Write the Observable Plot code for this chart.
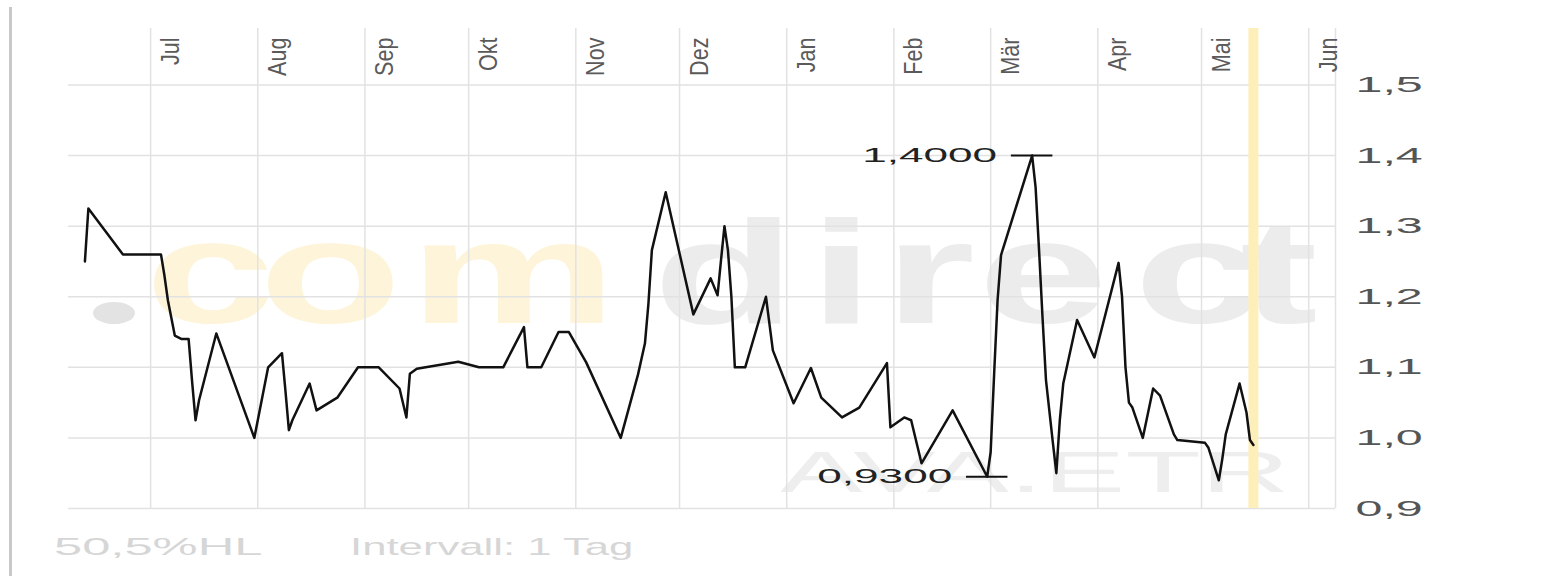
<!DOCTYPE html>
<html><head><meta charset="utf-8">
<script src="https://cdn.jsdelivr.net/npm/d3@7"></script>
<script src="https://cdn.jsdelivr.net/npm/@observablehq/plot@0.6"></script>
<style>
body{margin:0;background:#fff;font-family:"Liberation Sans",Arial,sans-serif;}
#wrap{position:relative;width:1563px;height:576px;overflow:hidden;background:#fff;}
#border{position:absolute;left:9px;top:7px;width:3px;bottom:0;background:#c8c8c8;}
#caption{position:absolute;left:0;top:525px;width:1563px;height:51px;color:#d6d6d6;font-size:24px;}
#caption span{position:absolute;top:10px;line-height:24px;transform-origin:0 50%;white-space:nowrap;}
</style></head><body>
<div id="wrap"><div id="chart"></div><div id="caption"><span id="c1">50,5%HL</span><span id="c2">Intervall: 1 Tag</span></div><div id="border"></div></div>
<script>
// ---- data ----
const dates = ["2022-06-12","2022-06-13","2022-06-23","2022-07-04","2022-07-05","2022-07-06","2022-07-08","2022-07-10","2022-07-12","2022-07-13","2022-07-14","2022-07-15","2022-07-20","2022-07-31","2022-08-04","2022-08-08","2022-08-09","2022-08-10","2022-08-11","2022-08-16","2022-08-18","2022-08-24","2022-08-30","2022-09-05","2022-09-11","2022-09-13","2022-09-14","2022-09-16","2022-09-28","2022-10-04","2022-10-11","2022-10-17","2022-10-18","2022-10-22","2022-10-27","2022-10-30","2022-11-04","2022-11-14","2022-11-19","2022-11-21","2022-11-22","2022-11-23","2022-11-27","2022-12-05","2022-12-10","2022-12-12","2022-12-13","2022-12-14","2022-12-15","2022-12-16","2022-12-17","2022-12-20","2022-12-26","2022-12-28","2023-01-03","2023-01-08","2023-01-11","2023-01-17","2023-01-22","2023-01-30","2023-01-31","2023-02-04","2023-02-06","2023-02-09","2023-02-18","2023-02-28","2023-03-01","2023-03-02","2023-03-03","2023-03-04","2023-03-13","2023-03-14","2023-03-15","2023-03-16","2023-03-17","2023-03-19","2023-03-20","2023-03-21","2023-03-22","2023-03-26","2023-03-31","2023-04-07","2023-04-08","2023-04-09","2023-04-10","2023-04-11","2023-04-14","2023-04-17","2023-04-19","2023-04-23","2023-04-24","2023-05-02","2023-05-03","2023-05-06","2023-05-07","2023-05-08","2023-05-12","2023-05-14","2023-05-15","2023-05-16"];
const values = [1.25,1.325,1.26,1.26,1.23,1.195,1.145,1.14,1.14,1.08,1.025,1.053,1.148,1.0,1.1,1.12,1.067,1.011,1.025,1.077,1.039,1.057,1.1,1.1,1.07,1.029,1.091,1.098,1.108,1.1,1.1,1.157,1.1,1.1,1.15,1.15,1.107,1.0,1.09,1.134,1.19,1.266,1.348,1.175,1.226,1.202,1.252,1.3,1.266,1.2,1.1,1.1,1.2,1.124,1.049,1.099,1.057,1.029,1.043,1.106,1.015,1.029,1.025,0.964,1.039,0.945,0.98,1.09,1.195,1.259,1.40,1.355,1.266,1.171,1.082,0.993,0.95,1.025,1.077,1.167,1.114,1.248,1.2,1.1,1.05,1.043,1.0,1.07,1.06,1.005,0.997,0.993,0.986,0.94,0.97,1.005,1.077,1.036,0.997,0.99];
const monthDates = ["2022-07-01","2022-08-01","2022-09-01","2022-10-01","2022-11-01","2022-12-01","2023-01-01","2023-02-01","2023-03-01","2023-04-01","2023-05-01","2023-06-01"];
const monthLabels = ["Jul","Aug","Sep","Okt","Nov","Dez","Jan","Feb","Mär","Apr","Mai","Jun"];
const yTicks = [0.9,1.0,1.1,1.2,1.3,1.4,1.5];
const yTickLabels = ["0,9","1,0","1,1","1,2","1,3","1,4","1,5"];
const extremeDates = ["2023-03-13","2023-02-28"];
const extremeValues = [1.40,0.945];
const extremeLabels = ["1,4000","0,9300"];
const markerDate = "2023-05-16";
const xDomain = [new Date("2022-06-07T06:00:00Z"), new Date("2023-06-08T18:00:00Z")];

// ---- tables ----
const data = dates.map((d,i)=>({date:new Date(d), value:values[i]}));
const months = monthDates.map((d,i)=>({date:new Date(d), label:monthLabels[i]}));
const extremes = extremeDates.map((d,i)=>({date:new Date(d), value:extremeValues[i], label:extremeLabels[i]}));
const grid = "#e2e2e2";
const FONT = "'Liberation Sans', Arial, sans-serif";

const chart = Plot.plot({
  width:1563, height:525,
  marginLeft:68, marginRight:228, marginTop:28, marginBottom:17,
  x:{type:"utc", domain:xDomain, axis:null},
  y:{domain:[0.9,1.58], axis:null},
  style:{fontFamily:FONT, background:"transparent"},
  marks:[
    Plot.ruleY(yTicks, {stroke:grid, strokeWidth:1.5}),
    Plot.ruleX(months, {x:"date", stroke:grid, strokeWidth:1.5}),
    Plot.ruleX([xDomain[1]], {stroke:grid, strokeWidth:1.5}),
    Plot.ruleX([new Date(markerDate)], {stroke:"#fdefb9", strokeWidth:10}),
    Plot.line(data, {x:"date", y:"value", stroke:"#111", strokeWidth:2.5}),
    Plot.ruleY(extremes, {y:"value", x1:d=>d3.utcDay.offset(d.date,-6), x2:d=>d3.utcDay.offset(d.date,6), stroke:"#111", strokeWidth:2}),
    Plot.text(extremes, {x:"date", y:"value", text:"label", textAnchor:"end", dx:-35, fontSize:21, fill:"#222"}),
    Plot.text(months, {x:"date", text:"label", frameAnchor:"top", rotate:-90, textAnchor:"end", dx:10, dy:9, fontSize:26, fill:"#5a5a5a"}),
    Plot.text(yTicks, {y:d=>d, text:(d,i)=>yTickLabels[i], frameAnchor:"right", textAnchor:"start", dx:20, fontSize:22, fill:"#555"})
  ]
});
document.getElementById("chart").appendChild(chart);

// stretched look of the original
const svg = d3.select(chart);
function stretchByContent(labels, f){
  svg.selectAll("text").each(function(){
    if (labels.includes(this.textContent)) {
      const L = this.getComputedTextLength();
      this.setAttribute("textLength", L*f);
      this.setAttribute("lengthAdjust","spacingAndGlyphs");
    }
  });
}
stretchByContent(yTickLabels, 2.2);
stretchByContent(extremeLabels, 2.1);
stretchByContent(monthLabels, 0.83);

// watermark behind everything
const wm = svg.insert("g","g").attr("aria-label","watermark").attr("text-anchor","start");
const sx = 1.6;
const letters = [["c",145,"#fdf4da"],["o",259,"#fdf4da"],["m",409,"#fdf4da"],["d",653,"#ececec"],["i",809,"#ececec"],["r",884,"#ececec"],["e",978,"#ececec"],["c",1134,"#ececec"],["t",1240,"#ececec"]];
wm.append("ellipse").attr("cx",114).attr("cy",313).attr("rx",21).attr("ry",11).attr("fill","#e3e3e3");
const wt = wm.append("g").attr("transform",`translate(0,323) scale(${sx},1)`)
  .append("text").attr("font-size",146).attr("font-weight","bold").attr("font-family",FONT).attr("text-anchor","start");
letters.forEach(([ch,x,c])=>wt.append("tspan").attr("x",x/sx).attr("y",0).attr("fill",c).text(ch));
wm.append("text").attr("x",780).attr("y",492).attr("font-size",58).attr("fill","#eeeeee")
  .attr("font-family",FONT).attr("text-anchor","start")
  .attr("textLength",510).attr("lengthAdjust","spacingAndGlyphs").text("AVA.ETR");

// caption
function fit(id, left, w){
  const el = document.getElementById(id);
  el.style.left = left+"px";
  el.style.transform = `scaleX(${w/el.offsetWidth})`;
}
fit("c1", 54, 209);
fit("c2", 350, 284);
</script>
</body></html>
